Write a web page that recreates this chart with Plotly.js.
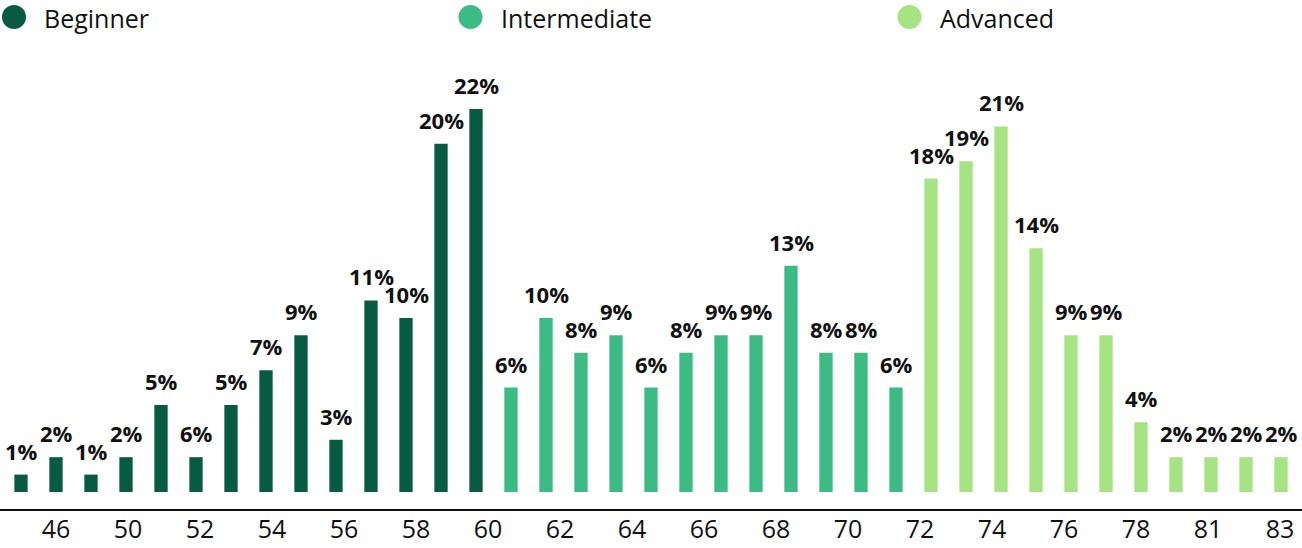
<!DOCTYPE html>
<html>
<head>
<meta charset="utf-8">
<script src="https://cdn.plot.ly/plotly-3.0.1.min.js"></script>
<style>
  html, body { margin: 0; padding: 0; background: #ffffff; }
  #chart { width: 1302px; height: 548px; }
</style>
</head>
<body>
<div id="chart"></div>
<script>
// ---- Data ----
const seriesNames = ['Beginner', 'Intermediate', 'Advanced'];
const seriesColors = ['#075b41', '#3dbb85', '#a6e383'];

const beginnerValues = [1, 2, 1, 2, 5, 2, 5, 7, 9, 3, 11, 10, 20, 22];
const beginnerLabels = ['1%', '2%', '1%', '2%', '5%', '6%', '5%', '7%', '9%', '3%', '11%', '10%', '20%', '22%'];

const intermediateValues = [6, 10, 8, 9, 6, 8, 9, 9, 13, 8, 8, 6];
const intermediateLabels = ['6%', '10%', '8%', '9%', '6%', '8%', '9%', '9%', '13%', '8%', '8%', '6%'];

const advancedValues = [18, 19, 21, 14, 9, 9, 4, 2, 2, 2, 2];
const advancedLabels = ['18%', '19%', '21%', '14%', '9%', '9%', '4%', '2%', '2%', '2%', '2%'];

const tickLabels = ['43', '46', '50', '52', '54', '56', '58', '60', '62', '64', '66', '68', '70', '72', '74', '76', '78', '81', '83'];

// ---- Build ----
const FONT = '"Open Sans", Lato, sans-serif';
const allValues = [beginnerValues, intermediateValues, advancedValues];
const allLabels = [beginnerLabels, intermediateLabels, advancedLabels];

const traces = [];
const annotations = [];
let offset = 0;
allValues.forEach((vals, s) => {
  const xs = vals.map((_, i) => offset + i);
  traces.push({
    type: 'bar',
    name: seriesNames[s],
    x: xs,
    y: vals,
    marker: { color: seriesColors[s], line: { width: 0 } },
    width: 0.38,
    showlegend: false,
    hoverinfo: 'skip'
  });
  vals.forEach((v, i) => {
    annotations.push({
      x: xs[i], y: v, xref: 'x', yref: 'y',
      text: allLabels[s][i],
      showarrow: false,
      yanchor: 'middle',
      xanchor: 'center',
      yshift: 24,
      font: { family: FONT, size: 22, color: '#111111', weight: 'bold' }
    });
  });
  offset += vals.length;
});

// Custom legend (large round markers)
const legendX = [14, 470.5, 909.5];   // circle centres in px
const legendTextGap = 28;
const W = 1302, MT = 60, MB = 39, H = 548;
const plotH = H - MT - MB;
const legendYpx = 17;
const legendTextYpx = 18;
const legendYpaper = (H - MB - legendYpx) / plotH;
const legendTextYpaper = (H - MB - legendTextYpx) / plotH;
const shapes = [];
seriesNames.forEach((name, s) => {
  shapes.push({
    type: 'circle', xref: 'paper', yref: 'paper',
    xsizemode: 'pixel', ysizemode: 'pixel',
    xanchor: legendX[s] / W, yanchor: legendYpaper,
    x0: -12, x1: 12, y0: -12, y1: 12,
    fillcolor: seriesColors[s], line: { width: 0 }
  });
  annotations.push({
    x: (legendX[s] + legendTextGap) / W, y: legendTextYpaper,
    xref: 'paper', yref: 'paper',
    text: name, showarrow: false,
    xanchor: 'left', yanchor: 'middle',
    font: { family: FONT, size: 25, color: '#111111' }
  });
});

// Axis geometry
const pxPerUnit = 35;
const xStart = -0.6;
const xEnd = xStart + W / pxPerUnit;
const tickStepPx = 72, firstTickPx = -16;
const tickVals = tickLabels.map((_, k) => (firstTickPx + k * tickStepPx) / pxPerUnit + xStart);

const yPx = 17.41;
const yBottom = -17 / yPx;
const yTop = yBottom + plotH / yPx;

const layout = {
  width: W, height: H,
  margin: { l: 0, r: 0, t: MT, b: MB, pad: 0 },
  paper_bgcolor: '#ffffff',
  plot_bgcolor: '#ffffff',
  barmode: 'overlay',
  showlegend: false,
  font: { family: FONT, color: '#111111' },
  xaxis: {
    range: [xStart, xEnd],
    tickmode: 'array',
    tickvals: tickVals,
    ticktext: tickLabels,
    showgrid: false, zeroline: false,
    showline: true, linecolor: '#111111', linewidth: 2,
    ticks: '',
    ticklabelstandoff: -3,
    tickfont: { family: FONT, size: 25, color: '#111111' },
    fixedrange: true
  },
  yaxis: {
    range: [yBottom, yTop],
    visible: false,
    showgrid: false, zeroline: false,
    fixedrange: true
  },
  shapes: shapes,
  annotations: annotations
};

Plotly.newPlot('chart', traces, layout, { staticPlot: true, displayModeBar: false });
</script>
</body>
</html>
